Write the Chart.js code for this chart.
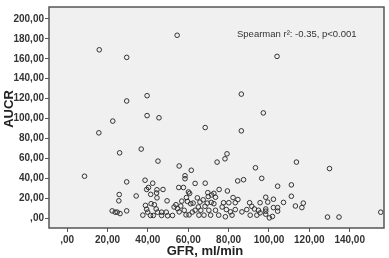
<!DOCTYPE html>
<html>
<head>
<meta charset="utf-8">
<script src="https://cdn.jsdelivr.net/npm/chart.js@4/dist/chart.umd.min.js"></script>
<style>
  body { margin: 0; background: #fff; }
</style>
</head>
<body>
<canvas id="chart" width="389" height="258"></canvas>
<script>
// GFR (ml/min) per patient
const gfr = [
  54.5, 15.9, 29.5, 104, 29.5, 39.6, 86.3, 97.2, 39.6, 45.5, 22.6, 68.4, 86.3, 15.7, 36.7, 26, 79.2,
  8.6, 29.5, 25.8, 25.6, 22.3, 23.8, 24.8, 26.2, 29.5,
  45, 55.5, 58.4, 58.4, 38.6, 42.4, 40.3, 39.4, 44.5, 47.5, 44.3, 41.4, 34.2, 55.3, 57.6, 60.1, 59.1,
  44.5, 49.5, 56.8, 38.8, 41.6, 43.2, 39.4, 39.9, 37.5, 41.3, 42.7, 44.1, 44.8, 46.8, 46.8, 49.1, 49.8,
  52.2, 53, 53.9, 54.7, 55.5, 56.3, 58, 58.9, 60.4, 61.2, 59.6, 62,
  78.2, 74.3, 93.3, 61.5, 84.5, 87.4, 63.4, 68.4, 75.3, 79.4, 60.7, 69.7, 71.6, 72.7, 64.5, 67.4, 69.9,
  73.5, 82.2, 84.6, 62.4, 65.8, 69.4, 71.4, 72.7, 77.5, 80.1, 83.3, 90.4, 63.4, 66.2, 68.3, 70.2, 73.5,
  76.8, 78.9, 80.9, 83.3, 86.6, 89, 91.5, 65.3, 67.8, 71.1, 75.1, 78.4, 81.7, 90.7, 65,
  113.6, 96.4, 104.3, 111.1, 111.1, 98.4, 102.2, 95.6, 99.4, 107.2, 117, 113.1, 116.3, 102.2, 104.3,
  104.3, 98.4, 98.4, 92.8, 94.8, 95.6, 94, 98.4, 100.2, 101.7,
  130, 129, 134.7, 155.4
];
// AUCR per patient
const aucr = [
  183.6, 169, 161.4, 162.4, 117.6, 122.9, 124.5, 105.6, 102.9, 100.7, 97.4, 90.9, 87.6, 85.6, 69.3, 65.5, 64.5,
  42, 36.3, 23.6, 17.3, 7.2, 5.9, 5.9, 4.5, 7.2,
  57.2, 52.3, 42.5, 39.5, 38, 35, 30.7, 28.7, 28.4, 28.7, 25.2, 23.8, 22.2, 30.7, 30.7, 26.2, 20.6,
  20.3, 17.3, 17, 12.7, 14.4, 13.4, 8.8, 5.9, 2.9, 2.6, 2.6, 9.1, 5.9, 5.9, 2.6, 5.9, 2.3,
  2.6, 11.1, 13.4, 9.5, 6.2, 12.1, 7.8, 3.2, 3.2, 14.4, 16.7, 6,
  59.5, 56.2, 50.5, 48, 37.3, 38.5, 34.8, 35, 28.7, 27.2, 24.8, 25.5, 23.2, 24.8, 20.3, 18.3, 21.6,
  20.9, 20.6, 18.6, 15, 16, 15, 15.7, 14.4, 15.4, 15.4, 15.4, 15.4, 7.8, 7.8, 11.8, 7.8, 7.8,
  11.1, 8.5, 6.2, 8.5, 6.2, 8.5, 11.8, 2.9, 2.9, 2.9, 2.9, 1.3, 2.9, 2.9, 11.1,
  56.2, 39.9, 32, 33.3, 21.9, 20.9, 18.9, 15.4, 16, 15.7, 15, 12.1, 10.5, 10.5, 10.5,
  6.9, 9.1, 6.9, 9.1, 7.8, 5.2, 2.9, 3.9, 0.2, 1.6,
  49.7, 1, 1, 5.9
];
const xTicks = [0, 20, 40, 60, 80, 100, 120, 140];
const yTicks = [0, 20, 40, 60, 80, 100, 120, 140, 160, 180, 200];
const xTitle = 'GFR, ml/min';
const yTitle = 'AUCR';
const note = 'Spearman r\u00b2: -0.35, p<0.001';

// SPSS style numbers: 20,00 and ,00
function fmt(v) {
  const s = v.toFixed(2).replace('.', ',');
  return s.startsWith('0,') ? s.slice(1) : s;
}

const frame = {
  id: 'frame',
  beforeDraw(chart) {
    const { ctx, chartArea: a } = chart;
    ctx.save();
    ctx.fillStyle = '#f0f0f0';
    ctx.fillRect(a.left, a.top, a.right - a.left, a.bottom - a.top);
    ctx.restore();
  },
  afterDraw(chart) {
    const { ctx, chartArea: a } = chart;
    ctx.save();
    ctx.strokeStyle = '#555';
    ctx.lineWidth = 1.5;
    ctx.strokeRect(a.left, a.top, a.right - a.left, a.bottom - a.top);

    ctx.fillStyle = '#222';
    ctx.font = 'bold 13px "Liberation Sans", Arial, sans-serif';
    ctx.textAlign = 'center';
    ctx.textBaseline = 'middle';
    ctx.fillText(xTitle, 205, 251);

    ctx.translate(9, 109);
    ctx.rotate(-Math.PI / 2);
    ctx.fillText(yTitle, 0, 0);
    ctx.restore();

    ctx.save();
    ctx.fillStyle = '#333';
    ctx.font = '9.5px "Liberation Sans", Arial, sans-serif';
    ctx.textAlign = 'left';
    ctx.textBaseline = 'middle';
    ctx.fillText(note, 237, 34);
    ctx.restore();
  }
};

const tickFont = { family: '"Liberation Sans", Arial, sans-serif', size: 10, weight: 'bold' };

new Chart(document.getElementById('chart'), {
  type: 'scatter',
  data: {
    datasets: [{
      data: gfr.map((x, i) => ({ x, y: aucr[i] })),
      pointRadius: 2.3,
      pointBorderWidth: 1,
      borderColor: '#333',
      backgroundColor: 'rgba(0,0,0,0)'
    }]
  },
  options: {
    responsive: false,
    animation: false,
    layout: { padding: { top: 2, right: 2, left: 0, bottom: 0 } },
    plugins: { legend: { display: false }, tooltip: { enabled: false } },
    scales: {
      x: {
        min: -9, max: 157,
        afterBuildTicks: s => { s.ticks = xTicks.map(v => ({ value: v })); },
        afterFit: s => { s.height = 30; },
        border: { display: false },
        grid: { drawOnChartArea: false, tickLength: 4, color: '#555' },
        ticks: { callback: v => fmt(v), color: '#333', font: tickFont, padding: 2, maxRotation: 0 }
      },
      y: {
        min: -10, max: 212,
        afterBuildTicks: s => { s.ticks = yTicks.map(v => ({ value: v })); },
        afterFit: s => { s.width = 49; },
        border: { display: false },
        grid: { drawOnChartArea: false, tickLength: 4, color: '#555' },
        ticks: { callback: v => fmt(v), color: '#333', font: tickFont, padding: 1 }
      }
    }
  },
  plugins: [frame]
});
</script>
</body>
</html>
